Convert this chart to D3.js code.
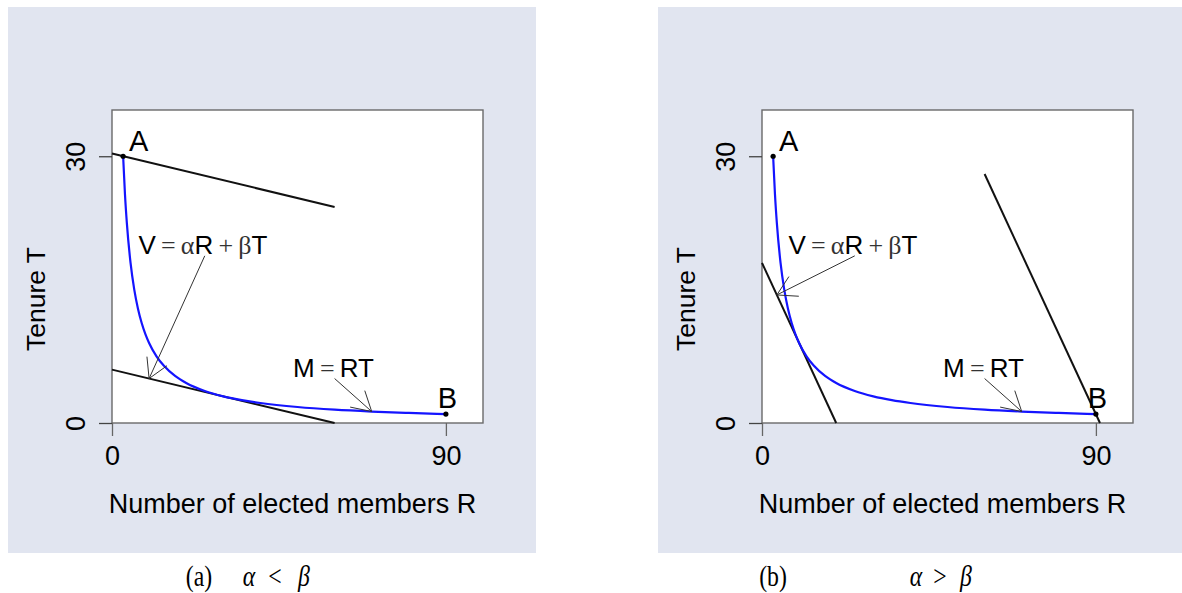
<!DOCTYPE html>
<html><head><meta charset="utf-8">
<script src="https://cdn.jsdelivr.net/npm/d3@7"></script>
<style>
html,body{margin:0;padding:0;background:#fff;}
svg{display:block;}
</style></head>
<body>
<svg id="c" width="1182" height="593"></svg>
<script>
// ---- data ----
const ticksR = [0, 90];
const ticksT = [0, 30];
const curveR = [3, 3.5, 4, 5, 6, 7, 8, 9, 10, 12, 14, 17, 20, 25, 30, 35, 40, 50, 60, 70, 80, 90];
const curveT = [30, 25.7, 22.5, 18, 15, 12.86, 11.25, 10, 9, 7.5, 6.43, 5.29, 4.5, 3.6, 3, 2.57, 2.25, 1.8, 1.5, 1.29, 1.13, 1.0];
const pointA = [3, 30];
const pointB = [90, 1];
// budget lines (alpha < beta)
const lineA1R = [0, 60], lineA1T = [30.3, 24.3];
const lineA2R = [0, 60], lineA2T = [6, 0];
// budget lines (alpha > beta)
const lineB1R = [0, 20], lineB1T = [18, 0];
const lineB2R = [60, 91.1], lineB2T = [28, 0];
// arrows [fromR, fromT, toR, toT]
const arrowsA = [[25, 18.8, 10, 5], [60, 5, 70, 1.29]];
const arrowsB = [[25, 18.8, 4, 14.4], [60, 5, 70, 1.29]];
const captions = ["(a)", "(b)"];
const relations = ["<", ">"];
const xTitle = "Number of elected members R";
const yTitle = "Tenure T";

const svg = d3.select("#c");
const W = 371, H = 313;
const x = d3.scaleLinear().domain([0, 100]).range([0, W]);
const y = d3.scaleLinear().domain([0, 35.2]).range([H, 0]);
const line = d3.line().x(d => x(d[0])).y(d => y(d[1]));
const curveLine = d3.line().x(d => x(d[0])).y(d => y(d[1])).curve(d3.curveMonotoneX);

const SANS = "'Liberation Sans', Arial, sans-serif";
const SERIF = "'Liberation Serif', 'Times New Roman', serif";

function panel(ox, bgx, bgw, lines, arrows, cap, rel, capPos) {
  svg.append("rect").attr("x", bgx).attr("y", 7).attr("width", bgw).attr("height", 546).attr("fill", "#e1e5f0");
  const g = svg.append("g").attr("transform", `translate(${ox},110)`);
  g.append("rect").attr("x", 0).attr("y", 0).attr("width", W).attr("height", H)
    .attr("fill", "#fff").attr("stroke", "#6a6a6a").attr("stroke-width", 1.4);

  // axes
  const ax = g.append("g").attr("transform", `translate(0,${H})`)
    .call(d3.axisBottom(x).tickValues(ticksR).tickSize(13).tickPadding(10).tickFormat(d3.format("d")));
  ax.select(".domain").remove();
  ax.selectAll("line").attr("stroke", "#666").attr("stroke-width", 1.3);
  ax.selectAll("text").attr("font-family", SANS).attr("font-size", 27).attr("fill", "#000");

  const ay = g.append("g")
    .call(d3.axisLeft(y).tickValues(ticksT).tickSize(13).tickFormat(d3.format("d")));
  ay.select(".domain").remove();
  ay.selectAll("line").attr("stroke", "#444").attr("stroke-width", 1.3);
  ay.selectAll("text").attr("font-family", SANS).attr("font-size", 27).attr("fill", "#000")
    .attr("x", null).attr("dy", null).attr("text-anchor", "middle")
    .attr("transform", "translate(-37,0) rotate(-90)").attr("y", 0).attr("dy", "0.36em");

  // black lines
  lines.forEach(l => {
    g.append("path").datum(l[0].map((r, i) => [r, l[1][i]])).attr("d", line)
      .attr("fill", "none").attr("stroke", "#111").attr("stroke-width", 2);
  });
  // curve
  g.append("path").datum(curveR.map((r, i) => [r, curveT[i]])).attr("d", curveLine)
    .attr("fill", "none").attr("stroke", "#1414ff").attr("stroke-width", 2.2);
  // points
  [pointA, pointB].forEach(p => g.append("circle").attr("cx", x(p[0])).attr("cy", y(p[1])).attr("r", 2.6).attr("fill", "#000"));
  // A, B labels
  g.append("text").attr("x", x(7.2)).attr("y", y(30.6)).attr("text-anchor", "middle")
    .attr("font-family", SANS).attr("font-size", 29).text("A");
  g.append("text").attr("x", x(90.4)).attr("y", y(1.7)).attr("text-anchor", "middle")
    .attr("font-family", SANS).attr("font-size", 29).text("B");

  // arrows
  arrows.forEach(a => {
    const x0 = x(a[0]), y0 = y(a[1]), x1 = x(a[2]), y1 = y(a[3]);
    const ang = Math.atan2(y0 - y1, x0 - x1), L = 22, sp = Math.PI / 6;
    const p = d3.path();
    p.moveTo(x0, y0); p.lineTo(x1, y1);
    p.moveTo(x1 + L * Math.cos(ang - sp), y1 + L * Math.sin(ang - sp)); p.lineTo(x1, y1);
    p.lineTo(x1 + L * Math.cos(ang + sp), y1 + L * Math.sin(ang + sp));
    g.append("path").attr("d", p.toString()).attr("fill", "none").attr("stroke", "#333").attr("stroke-width", 1);
  });

  // equations
  const eq1 = g.append("text").attr("x", x(24.5)).attr("y", y(19.05)).attr("text-anchor", "middle").attr("font-size", 26);
  eq1.append("tspan").attr("font-family", SANS).text("V");
  eq1.append("tspan").attr("font-family", SERIF).attr("fill", "#333").text("\u2009=\u2009\u03b1");
  eq1.append("tspan").attr("font-family", SANS).text("R");
  eq1.append("tspan").attr("font-family", SERIF).attr("fill", "#333").text("\u2009+\u2009\u03b2");
  eq1.append("tspan").attr("font-family", SANS).text("T");

  const eq2 = g.append("text").attr("x", x(59.7)).attr("y", y(5.2)).attr("text-anchor", "middle").attr("font-size", 26);
  eq2.append("tspan").attr("font-family", SANS).text("M");
  eq2.append("tspan").attr("font-family", SERIF).attr("fill", "#333").text("\u2009=\u2009");
  eq2.append("tspan").attr("font-family", SANS).text("RT");

  // axis titles
  g.append("text").attr("x", 180.5).attr("y", 403).attr("text-anchor", "middle")
    .attr("font-family", SANS).attr("font-size", 27).text(xTitle);
  g.append("text").attr("transform", `translate(-77,189) rotate(-90)`).attr("text-anchor", "middle")
    .attr("dy", "0.36em").attr("font-family", SANS).attr("font-size", 26.5).text(yTitle);

  // caption
  const parts = [[cap, false], ["\u03b1", true], [rel, false], ["\u03b2", true]];
  parts.forEach((pt, i) => {
    svg.append("text").attr("transform", `translate(${capPos[i]},586) scale(0.82,1)`)
      .attr("text-anchor", "middle").attr("font-family", SERIF).attr("font-size", 29)
      .attr("font-style", pt[1] ? "italic" : "normal").text(pt[0]);
  });
}

panel(112, 8, 528, [[lineA1R, lineA1T], [lineA2R, lineA2T]], arrowsA, captions[0], relations[0], [199, 249, 275, 304]);
panel(762, 658, 524, [[lineB1R, lineB1T], [lineB2R, lineB2T]], arrowsB, captions[1], relations[1], [773, 916, 940, 966]);
</script>
</body></html>
